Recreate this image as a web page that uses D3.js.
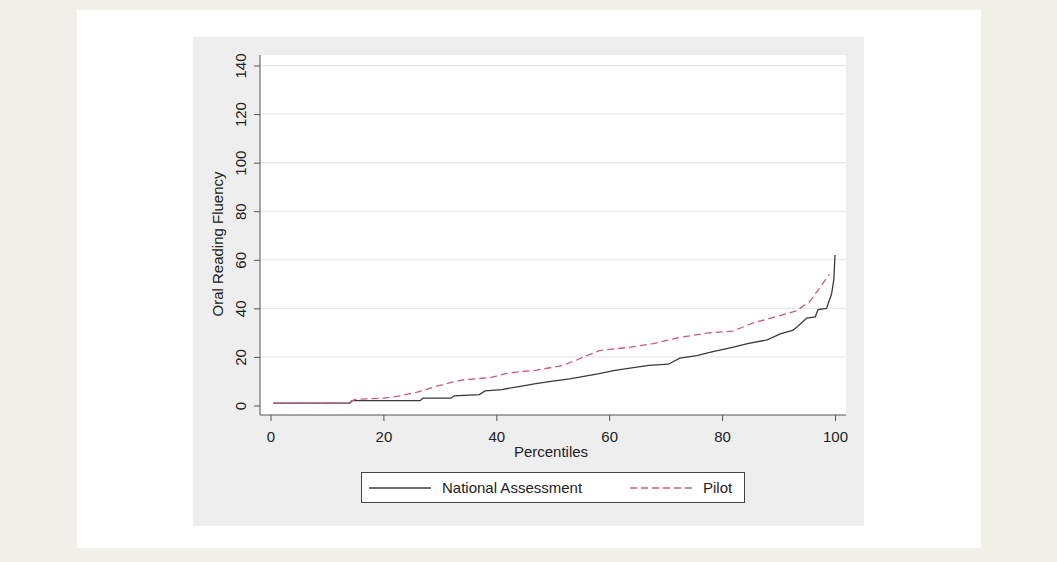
<!DOCTYPE html>
<html>
<head>
<meta charset="utf-8">
<script src="https://cdn.jsdelivr.net/npm/d3@7"></script>
<style>
  html, body { margin: 0; padding: 0; background: #f2f1e9; }
  svg { display: block; font-family: "Liberation Sans", Arial, sans-serif; }
</style>
</head>
<body>
<script>
// Percentile curves
const nationalPct = [0.5, 14, 14.5, 26.5, 27, 32, 32.5, 37, 38, 41, 42, 44.5, 47, 50, 53, 55.5, 58, 61, 64, 67, 70.5, 72.5, 75.5, 78, 80, 82, 84.5, 88, 90.3, 92.6, 93.8, 95, 96.5, 97, 98.5, 99.4, 99.8, 100];
const nationalVal = [1, 1, 2, 2, 3, 3, 4, 4.5, 6, 6.5, 7, 8, 9, 10, 11, 12, 13, 14.5, 15.5, 16.5, 17, 19.5, 20.5, 22, 23, 24, 25.5, 27, 29.5, 31, 33.5, 36, 36.5, 39.5, 40, 46, 52, 62];
const pilotPct = [0.5, 13.5, 15, 20, 23, 26, 29.5, 32, 34, 38.9, 42.4, 47, 51.8, 54, 56, 58.4, 63.7, 67.8, 72.4, 77.2, 81.9, 85.5, 90.3, 93.2, 95.6, 97.3, 99];
const pilotVal = [1, 1, 2.5, 3, 4, 5.5, 8, 9.5, 10.5, 11.5, 13.5, 14.5, 16.5, 18.5, 20.5, 22.7, 24, 25.5, 28, 29.8, 30.6, 34, 37, 39, 43, 48.5, 54];
const xTicks = [0, 20, 40, 60, 80, 100];
const yTicks = [0, 20, 40, 60, 80, 100, 120, 140];
const seriesNames = ["National Assessment", "Pilot"];

const width = 1057, height = 562;
const svg = d3.select("body").append("svg")
  .attr("width", width)
  .attr("height", height);

// page panel and graph region
svg.append("rect").attr("x", 77).attr("y", 10).attr("width", 904).attr("height", 538).attr("fill", "#fff");
svg.append("rect").attr("x", 193).attr("y", 37).attr("width", 671).attr("height", 489).attr("fill", "#eeeeee");

const plot = { left: 260, right: 846, top: 55, bottom: 415 };
svg.append("rect")
  .attr("x", plot.left).attr("y", plot.top)
  .attr("width", plot.right - plot.left).attr("height", plot.bottom - plot.top)
  .attr("fill", "#fff");

const x = d3.scaleLinear().domain([0, 100]).range([270.5, 835]);
const y = d3.scaleLinear().domain([0, 140]).range([405.5, 65.5]);

// grid lines
svg.append("g")
  .selectAll("line")
  .data(yTicks.slice(1))
  .join("line")
  .attr("x1", plot.left).attr("x2", plot.right)
  .attr("y1", d => y(d)).attr("y2", d => y(d))
  .attr("stroke", "#e4e4e4")
  .attr("stroke-width", 1);

// y axis
const gy = svg.append("g")
  .attr("transform", `translate(${plot.left},0)`)
  .call(d3.axisLeft(y).tickValues(yTicks).tickSize(6).tickSizeOuter(0));
gy.select(".domain").remove();
gy.append("line")
  .attr("y1", plot.top).attr("y2", plot.bottom)
  .attr("stroke", "#555");
gy.selectAll(".tick line").attr("stroke", "#555");
gy.selectAll(".tick text")
  .attr("x", null).attr("dy", null)
  .attr("transform", "translate(-19,0) rotate(-90)")
  .attr("dy", "0.35em")
  .attr("text-anchor", "middle")
  .attr("font-size", 15)
  .attr("fill", "#222");

// x axis
const gx = svg.append("g")
  .attr("transform", `translate(0,${plot.bottom})`)
  .call(d3.axisBottom(x).tickValues(xTicks).tickSize(6).tickSizeOuter(0));
gx.select(".domain").remove();
gx.append("line")
  .attr("x1", plot.left).attr("x2", plot.right)
  .attr("stroke", "#555");
gx.selectAll(".tick line").attr("stroke", "#555");
gx.selectAll(".tick text")
  .attr("y", 27).attr("dy", null)
  .attr("font-size", 15)
  .attr("fill", "#222");

// axis titles
svg.append("text")
  .attr("transform", "translate(223,244) rotate(-90)")
  .attr("text-anchor", "middle")
  .attr("font-size", 15)
  .attr("fill", "#222")
  .text("Oral Reading Fluency");
svg.append("text")
  .attr("x", 551).attr("y", 457)
  .attr("text-anchor", "middle")
  .attr("font-size", 15)
  .attr("fill", "#222")
  .text("Percentiles");

// lines
const line = d3.line().x(d => x(d[0])).y(d => y(d[1]));
svg.append("path")
  .datum(d3.zip(nationalPct, nationalVal))
  .attr("d", line)
  .attr("fill", "none")
  .attr("stroke", "#3a3a3a")
  .attr("stroke-width", 1.3);
svg.append("path")
  .datum(d3.zip(pilotPct, pilotVal))
  .attr("d", line)
  .attr("fill", "none")
  .attr("stroke", "#cf5a78")
  .attr("stroke-width", 1.3)
  .attr("stroke-dasharray", "7,4");

// legend
const legend = svg.append("g");
legend.append("rect")
  .attr("x", 361.5).attr("y", 472.5).attr("width", 383).attr("height", 30)
  .attr("fill", "#fff").attr("stroke", "#444");
legend.append("line")
  .attr("x1", 369).attr("x2", 431).attr("y1", 488).attr("y2", 488)
  .attr("stroke", "#3a3a3a").attr("stroke-width", 1.3);
legend.append("text")
  .attr("x", 442).attr("y", 493)
  .attr("font-size", 15).attr("fill", "#222")
  .text(seriesNames[0]);
legend.append("line")
  .attr("x1", 630).attr("x2", 694).attr("y1", 488).attr("y2", 488)
  .attr("stroke", "#cf5a78").attr("stroke-width", 1.3)
  .attr("stroke-dasharray", "7,4");
legend.append("text")
  .attr("x", 703).attr("y", 493)
  .attr("font-size", 15).attr("fill", "#222")
  .text(seriesNames[1]);
</script>
</body>
</html>
